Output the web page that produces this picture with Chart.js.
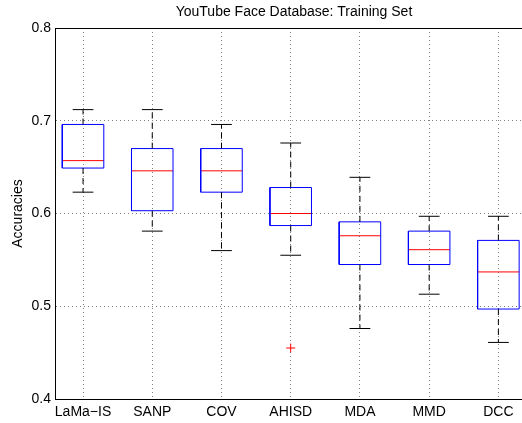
<!DOCTYPE html>
<html>
<head>
<meta charset="utf-8">
<script src="https://cdn.jsdelivr.net/npm/chart.js@4.4.1/dist/chart.umd.min.js"></script>
<style>
    html, body { margin: 0; padding: 0; background: #fff; overflow: hidden; }
    #wrap { width: 588px; height: 423px; }
</style>
</head>
<body>
<div id="wrap"><canvas id="boxChart" width="588" height="423"></canvas></div>
<script>
// box plot values
const categories = ['LaMa\u2212IS', 'SANP', 'COV', 'AHISD', 'MDA', 'MMD', 'DCC'];
const whiskerLow = [0.623, 0.581, 0.560, 0.555, 0.476, 0.513, 0.461];
const q1 = [0.649, 0.603, 0.623, 0.587, 0.545, 0.545, 0.497];
const medians = [0.657, 0.646, 0.646, 0.600, 0.576, 0.561, 0.537];
const q3 = [0.696, 0.670, 0.670, 0.628, 0.591, 0.581, 0.571];
const whiskerHigh = [0.712, 0.712, 0.696, 0.676, 0.639, 0.597, 0.597];
const outlierCategory = ['AHISD'];
const outlierValue = [0.455];
const yTicks = [0.4, 0.5, 0.6, 0.7, 0.8];

const BOX_HALF = 0.3;
const CAP_HALF = 0.15;
const X_MIN = 0.595;
const X_MAX = 7.5;

Chart.defaults.font.family = '"Liberation Sans", Arial, Helvetica, sans-serif';
Chart.defaults.font.size = 14;
Chart.defaults.color = '#000';

// turn the arrays into polyline points, with null breaks between boxes
function boxPoints() {
    let pts = [];
    categories.forEach((c, i) => {
        const x = i + 1;
        pts.push({x: x - BOX_HALF, y: q1[i]}, {x: x + BOX_HALF, y: q1[i]},
                 {x: x + BOX_HALF, y: q3[i]}, {x: x - BOX_HALF, y: q3[i]},
                 {x: x - BOX_HALF, y: q1[i]}, {x: x, y: null});
    });
    return pts;
}

function medianPoints() {
    let pts = [];
    categories.forEach((c, i) => {
        const x = i + 1;
        pts.push({x: x - BOX_HALF, y: medians[i]}, {x: x + BOX_HALF, y: medians[i]}, {x: x, y: null});
    });
    return pts;
}

function whiskerPoints() {
    let pts = [];
    categories.forEach((c, i) => {
        const x = i + 1;
        pts.push({x: x, y: q3[i]}, {x: x, y: whiskerHigh[i]}, {x: x + 0.01, y: null});
        pts.push({x: x, y: q1[i]}, {x: x, y: whiskerLow[i]}, {x: x + 0.01, y: null});
    });
    return pts;
}

function capPoints() {
    let pts = [];
    categories.forEach((c, i) => {
        const x = i + 1;
        pts.push({x: x - CAP_HALF, y: whiskerHigh[i]}, {x: x + CAP_HALF, y: whiskerHigh[i]}, {x: x, y: null});
        pts.push({x: x - CAP_HALF, y: whiskerLow[i]}, {x: x + CAP_HALF, y: whiskerLow[i]}, {x: x, y: null});
    });
    return pts;
}

const outlierPoints = outlierCategory.map((c, k) => ({x: categories.indexOf(c) + 1, y: outlierValue[k]}));

const lineSet = (data, color, dash) => ({
    data: data,
    showLine: true,
    borderColor: color,
    borderWidth: 1,
    borderDash: dash || [],
    pointRadius: 0,
    spanGaps: false,
    tension: 0,
    fill: false
});

new Chart(document.getElementById('boxChart'), {
    type: 'scatter',
    data: {
        datasets: [
            lineSet(whiskerPoints(), '#000000', [6, 4]),
            lineSet(capPoints(), '#000000'),
            lineSet(boxPoints(), '#0000ff'),
            lineSet(medianPoints(), '#ff0000'),
            {
                data: outlierPoints,
                pointStyle: 'cross',
                pointRadius: 4.5,
                borderColor: '#ff0000',
                borderWidth: 1,
                showLine: false
            }
        ]
    },
    options: {
        responsive: false,
        animation: false,
        layout: { padding: 0 },
        plugins: {
            legend: { display: false },
            tooltip: { enabled: false },
            title: {
                display: true,
                text: 'YouTube Face Database: Training Set',
                font: { size: 14, weight: 'normal' },
                color: '#000',
                padding: { top: 3.4, bottom: 7.8 }
            }
        },
        scales: {
            x: {
                type: 'linear',
                position: 'bottom',
                min: X_MIN,
                max: X_MAX,
                afterBuildTicks: (scale) => {
                    scale.ticks = categories.map((c, i) => ({ value: i + 1 }));
                },
                afterFit: (scale) => { scale.height = 24; },
                ticks: {
                    autoSkip: false,
                    maxRotation: 0,
                    padding: 5,
                    callback: (value) => categories[value - 1]
                },
                grid: { color: '#808080', lineWidth: 1, drawTicks: false },
                border: { display: true, color: '#000', width: 1, dash: [1, 3] }
            },
            xTop: {
                type: 'linear',
                position: 'top',
                min: X_MIN,
                max: X_MAX,
                afterFit: (scale) => { scale.height = 0; },
                ticks: { display: false },
                grid: { display: false, drawTicks: false },
                border: { display: true, color: '#000', width: 1 }
            },
            y: {
                min: 0.4,
                max: 0.8,
                afterBuildTicks: (scale) => {
                    scale.ticks = yTicks.map(v => ({ value: v }));
                },
                afterFit: (scale) => { scale.width = 55; },
                ticks: {
                    padding: 4,
                    callback: (value) => value.toFixed(1)
                },
                title: {
                    display: true,
                    text: 'Accuracies',
                    font: { size: 14 },
                    padding: { top: 10, bottom: 0 }
                },
                grid: { color: '#808080', lineWidth: 1, drawTicks: false },
                border: { display: true, color: '#000', width: 1, dash: [1, 3] }
            },
            yRight: {
                position: 'right',
                min: 0.4,
                max: 0.8,
                afterFit: (scale) => { scale.width = 55; },
                ticks: { display: false },
                grid: { display: false, drawTicks: false },
                border: { display: false }
            }
        }
    }
});
</script>
</body>
</html>
